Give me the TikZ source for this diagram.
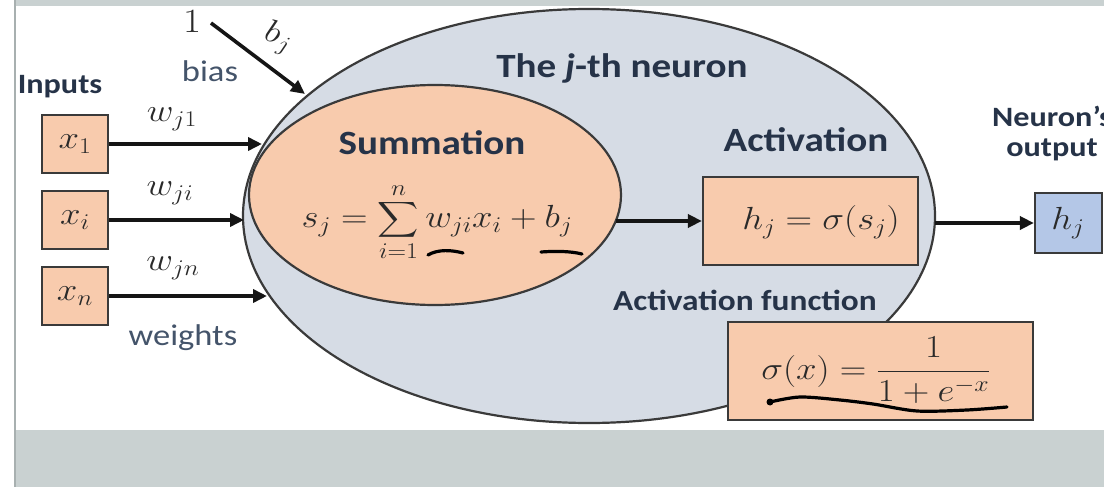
\RequirePackage{fix-cm}
\documentclass[tikz,border=0pt]{standalone}
\usepackage{amsmath}
\usepackage{graphicx}
\usepackage{fontspec}
\setmainfont{Carlito}[FakeStretch=1.15]
\usetikzlibrary{arrows.meta,shapes.geometric}
\newcommand{\hs}[1]{\scalebox{1.15}[1]{#1}}
\definecolor{peach}{HTML}{F8CBAD}
\definecolor{neuronfill}{HTML}{D6DCE5}
\definecolor{outfill}{HTML}{B4C7E7}
\definecolor{titlecol}{HTML}{263348}
\definecolor{labelcol}{HTML}{44546A}
\definecolor{mathcol}{HTML}{2A2A2A}
\definecolor{edgecol}{HTML}{3A3A3A}
\definecolor{bandcol}{HTML}{C9D1D1}
\definecolor{bandline}{HTML}{A8B0B0}
\definecolor{arrowcol}{HTML}{151515}
\begin{document}
\begin{tikzpicture}[x=1pt,y=-1pt,
  box/.style={draw=edgecol, line width=2.2pt, fill=peach, inner sep=0pt},
  title/.style={text=titlecol, inner sep=0pt, font=\bfseries\fontsize{34}{40}\selectfont},
  subtitle/.style={text=titlecol, inner sep=0pt, font=\bfseries\fontsize{28}{32}\selectfont, align=center},
  plainlbl/.style={text=labelcol, inner sep=0pt, font=\fontsize{30}{36}\selectfont},
  mathlbl/.style={text=mathcol, inner sep=0pt, font=\fontsize{32}{38}\selectfont},
  arr/.style={draw=arrowcol, line width=3.6pt, -{Triangle[length=14pt,width=13pt]}},
  hand/.style={draw=black, line width=3.2pt, line cap=round, line join=round}]
\useasboundingbox (0,0) rectangle (1104,487);
\fill[white] (0,0) rectangle (1104,487);
\fill[bandcol] (15,0) rectangle (1104,6);
\fill[bandcol] (15,430) rectangle (1104,487);
\draw[bandline, line width=1.5pt] (15,0) -- (15,487);

% neuron
\node[ellipse, draw=edgecol, line width=2.2pt, fill=neuronfill, minimum width=692pt, minimum height=414pt, inner sep=0pt] (neuron) at (589,216) {};
\node[ellipse, draw=edgecol, line width=2.2pt, fill=peach, minimum width=372pt, minimum height=220pt, inner sep=0pt] (summ) at (435,195) {};
\node[title] (neurtitle) at (622,68) {The \textit{j}-th neuron};
\node[title] (sumtitle) at (432,143) {Summation};
\node[mathlbl] (sumformula) at (437,222) {\hs{$\displaystyle s_j=\sum_{i=1}^{n} w_{ji}x_i+b_j$}};

% activation
\node[title] (acttitle) at (806,140) {Activation};
\node[box, minimum width=215pt, minimum height=88pt] (act) at (810.5,221) {};
\node[mathlbl] (actformula) at (821,222) {\hs{$h_j=\sigma(s_j)$}};
\node[subtitle, font=\bfseries\fontsize{29}{34}\selectfont] (actfun) at (745,300) {Activation function};
\node[box, minimum width=305pt, minimum height=98pt] (sig) at (880.5,371) {};
\node[mathlbl] (sigformula) at (876,370) {\hs{$\sigma(x)=\dfrac{1}{1+e^{-x}}$}};

% output
\node[subtitle] (outtitle) at (1052,134) {Neuron's\\[-2pt]output};
\node[box, fill=outfill, minimum width=67pt, minimum height=60pt] (hj) at (1068.5,223) {};
\node[mathlbl] (hjlbl) at (1068,223) {\hs{$h_j$}};

% inputs
\node[subtitle] (inputs) at (60,87) {Inputs};
\node[box, minimum width=66pt, minimum height=58pt] (x1) at (75,144) {};
\node[box, minimum width=66pt, minimum height=58pt] (xi) at (75,220) {};
\node[box, minimum width=66pt, minimum height=58pt] (xn) at (75,296) {};
\node[mathlbl] (x1lbl) at (75,144) {\hs{$x_1$}};
\node[mathlbl] (xilbl) at (75,220) {\hs{$x_i$}};
\node[mathlbl] (xnlbl) at (75,296) {\hs{$x_n$}};
\node[mathlbl] (w1) at (172,119) {\hs{$w_{j1}$}};
\node[mathlbl] (wi) at (170,193) {\hs{$w_{ji}$}};
\node[mathlbl] (wn) at (173,268) {\hs{$w_{jn}$}};
\node[plainlbl] (weights) at (183,338) {weights};

% bias
\node[mathlbl, font=\fontsize{34}{40}\selectfont] (one) at (192,22) {\hs{$1$}};
\node[mathlbl, rotate=-18] (bj) at (278,38) {\hs{$b_j$}};
\node[plainlbl] (bias) at (210,71) {bias};

% connector end points on the neuron border
\coordinate (in1) at (262,144);
\coordinate (in2) at (244,220);
\coordinate (in3) at (267,296);
\coordinate (biasstart) at (211,23);
\coordinate (biasend) at (305,94);
\coordinate (sumout) at (616,221);
\coordinate (neurout) at (935,223);

\draw[arr] (x1.east) -- (in1);
\draw[arr] (xi.east) -- (in2);
\draw[arr] (xn.east) -- (in3);
\draw[arr] (biasstart) -- (biasend);
\draw[arr] (sumout) -- (act.west);
\draw[arr] (neurout) -- (hj.west);

% handwritten underlines
\draw[hand] (428,255) .. controls (438,249) and (452,250) .. (463,253);
\draw[hand] (541,252) .. controls (555,251) and (570,251) .. (582,254);
\fill[black] (770,402) circle (3.5pt);
\draw[hand] plot[smooth] coordinates {(770,402) (800,397) (840,400) (873,404) (917,411) (967,410) (1007,407)};
\end{tikzpicture}
\end{document}
